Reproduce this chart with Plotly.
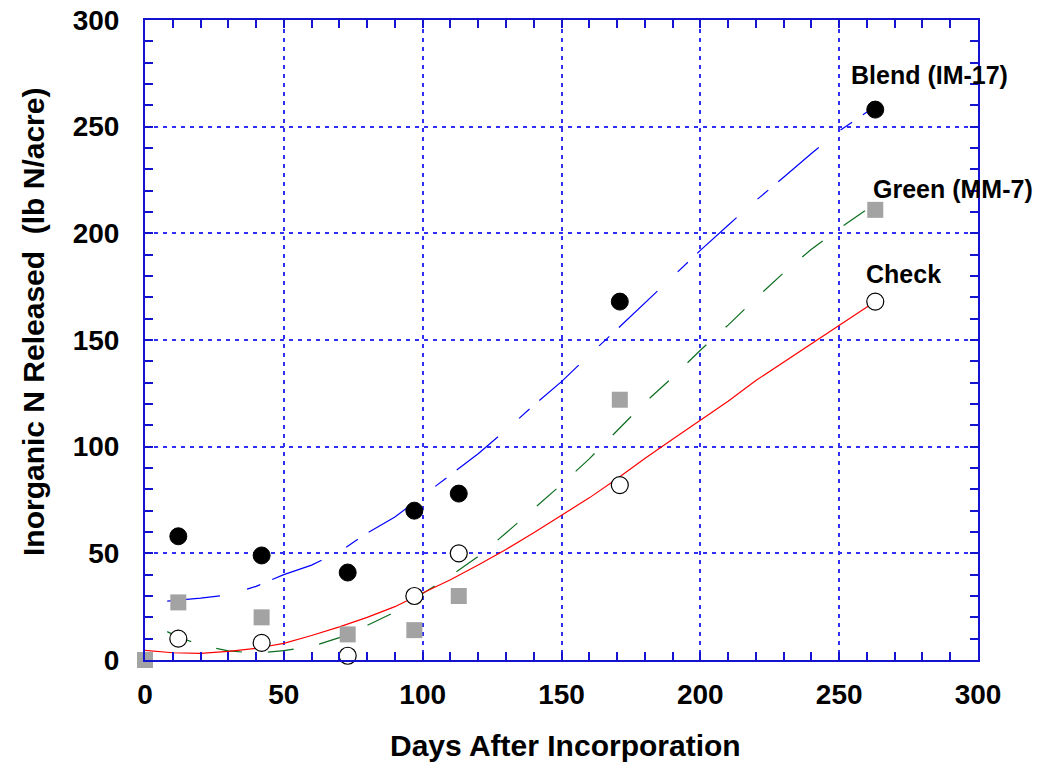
import plotly.graph_objects as go

# ---- observed data ----
blend_days = [12, 42, 73, 97, 113, 171, 263]
blend_n = [58, 49, 41, 70, 78, 168, 258]
green_days = [0, 12, 42, 73, 97, 113, 171, 263]
green_n = [0, 27, 20, 12, 14, 30, 122, 211]
check_days = [12, 42, 73, 97, 113, 171, 263]
check_n = [10, 8, 2, 30, 50, 82, 168]

# ---- fitted curves ----
blend_fit_x = [8, 12, 20, 30, 40, 50, 60, 70, 80, 90, 100, 110, 120, 130, 140, 150,
               160, 170, 180, 190, 200, 210, 220, 230, 240, 250, 263]
blend_fit_y = [27.6, 28, 29, 30.5, 34.5, 40, 44.5, 50.7, 59.5, 67, 77, 86.8, 96.7, 107.8,
               119.4, 130.5, 143, 155, 167.3, 180, 192, 203.8, 215.4, 226.3, 237.4, 248, 259.5]
green_fit_x = [8, 10, 15, 20, 30, 40, 50, 60, 70, 80, 90, 100, 110, 120, 130, 140, 150,
               160, 170, 180, 190, 200, 210, 220, 230, 240, 250, 263]
green_fit_y = [13.3, 12, 9.4, 7, 4.3, 3.2, 4.4, 6.3, 10.5, 16.2, 22.5, 31.2, 39.4, 48.5,
               59.5, 70.7, 82.3, 94.3, 107.4, 120.6, 132.5, 145.2, 157, 169.5, 181.5,
               192.5, 202.2, 214]
check_fit_x = [0, 10, 20, 30, 40, 50, 60, 70, 80, 90, 100, 110, 120, 130, 140, 150, 160,
               170, 180, 190, 200, 210, 220, 230, 240, 250, 263]
check_fit_y = [4.5, 3.4, 3.1, 4, 5.5, 7.8, 11.5, 15.5, 20, 25, 31.4, 37.6, 44.5, 51.8,
               59.7, 67.8, 76, 85, 94.5, 103.5, 112.4, 121.3, 131, 139.6, 148.4, 156.8, 168]

labels = ["Blend (IM-17)", "Green (MM-7)", "Check"]
label_x = [253.5, 261.5, 259]
label_y = [274, 221, 181]

x_title = "Days After Incorporation"
y_title = "Inorganic N Released  (lb N/acre)"

FONT = "Liberation Sans, Arial, sans-serif"
AXIS_BLUE = "#1414d0"
GRID_BLUE = "#3030f0"

fig = go.Figure()

fig.add_trace(go.Scatter(x=blend_fit_x, y=blend_fit_y, mode="lines",
                         line=dict(color="#0000ff", width=1.2, dash="53px,28px,14px,13px"),
                         hoverinfo="skip", showlegend=False))
fig.add_trace(go.Scatter(x=green_fit_x, y=green_fit_y, mode="lines",
                         line=dict(color="#0b6e1e", width=1.2, dash="26px,26px"),
                         hoverinfo="skip", showlegend=False))
fig.add_trace(go.Scatter(x=check_fit_x, y=check_fit_y, mode="lines",
                         line=dict(color="#ff0000", width=1.2),
                         hoverinfo="skip", showlegend=False))

fig.add_trace(go.Scatter(x=blend_days, y=blend_n, mode="markers", cliponaxis=False,
                         marker=dict(symbol="circle", size=17, color="black",
                                     line=dict(color="black", width=1)),
                         name="Blend (IM-17)", showlegend=False))
fig.add_trace(go.Scatter(x=green_days, y=green_n, mode="markers", cliponaxis=False,
                         marker=dict(symbol="square", size=16, color="#a3a3a3",
                                     line=dict(color="#a3a3a3", width=0)),
                         name="Green (MM-7)", showlegend=False))
fig.add_trace(go.Scatter(x=check_days, y=check_n, mode="markers", cliponaxis=False,
                         marker=dict(symbol="circle", size=17, color="white",
                                     line=dict(color="black", width=1.2)),
                         name="Check", showlegend=False))

for t, x, y in zip(labels, label_x, label_y):
    fig.add_annotation(x=x, y=y, text=t, showarrow=False, xanchor="left", yanchor="middle",
                       font=dict(family=FONT, size=25, color="black", weight="bold"))

axis_common = dict(
    range=[0, 300], dtick=50, tick0=0, automargin=False,
    showline=True, linecolor=AXIS_BLUE, linewidth=2, mirror="ticks",
    ticks="inside", ticklen=8, tickwidth=1.5, tickcolor=AXIS_BLUE,
    showgrid=True, gridcolor=GRID_BLUE, gridwidth=1.5, griddash="4px,5px",
    zeroline=False,
    minor=dict(dtick=10, ticks="inside", ticklen=8, tickwidth=1.5, tickcolor=AXIS_BLUE,
               showgrid=False),
    tickfont=dict(family=FONT, size=28, color="black", weight="bold"),
)

fig.update_xaxes(**axis_common, ticklabelstandoff=8)
fig.update_yaxes(**axis_common, ticklabelstandoff=18)

W, H = 1037, 764
L, R, T, B = 145, 59, 20, 104
fig.update_layout(
    width=W, height=H,
    margin=dict(l=L, r=R, t=T, b=B, autoexpand=False),
    plot_bgcolor="white", paper_bgcolor="white",
    showlegend=False,
)

# axis titles as paper-referenced annotations (pixel targets converted)
fig.add_annotation(x=(565 - L) / (W - L - R), y=(H - B - 745) / (H - T - B),
                   xref="paper", yref="paper", text=x_title, showarrow=False,
                   xanchor="center", yanchor="middle",
                   font=dict(family=FONT, size=30, color="black", weight="bold"))
fig.add_annotation(x=(33 - L) / (W - L - R), y=(H - B - 322) / (H - T - B),
                   xref="paper", yref="paper", text=y_title, showarrow=False,
                   textangle=-90, xanchor="center", yanchor="middle",
                   font=dict(family=FONT, size=30, color="black", weight="bold"))

fig.write_html("out.html")
